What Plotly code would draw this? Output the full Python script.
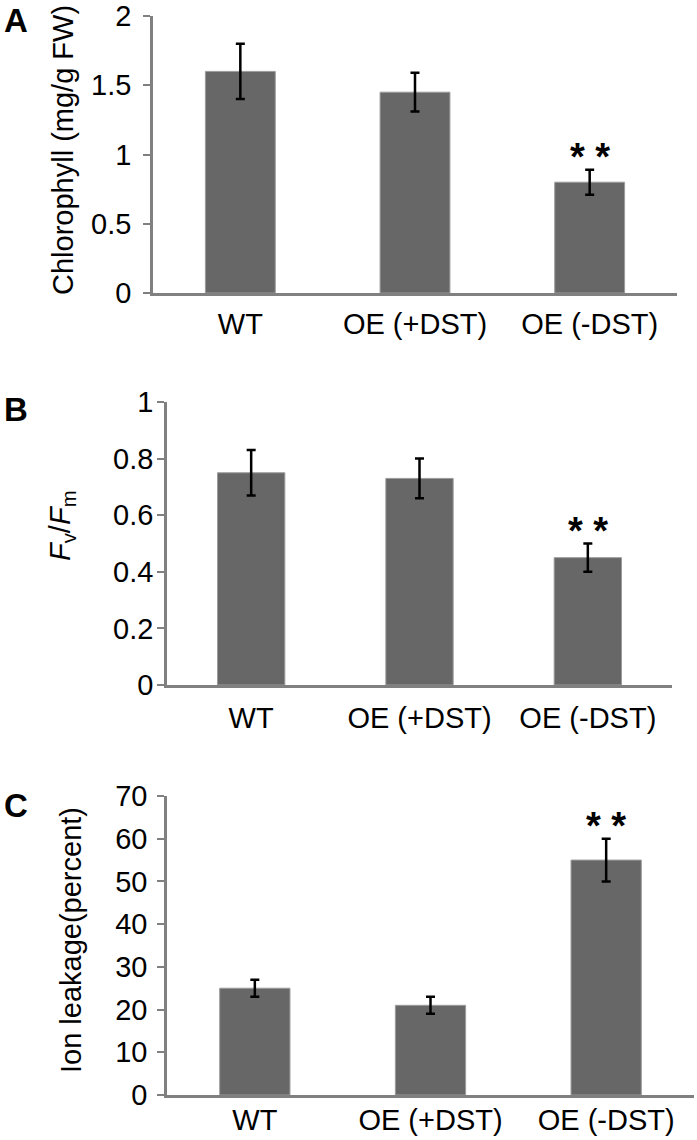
import plotly.graph_objects as go

categories = ["WT", "OE (+DST)", "OE (-DST)"]

chl_values = [1.6, 1.45, 0.8]
chl_errors = [0.2, 0.14, 0.09]

fvfm_values = [0.75, 0.73, 0.45]
fvfm_errors = [0.08, 0.07, 0.05]

ion_values = [25, 21, 55]
ion_errors = [2, 2, 5]

W, H = 697, 1140
FONT = "Liberation Sans, Arial, sans-serif"
AXC = "#808080"
BAR = "#676767"
BAR_EDGE = "#9c9c9c"


def px_x(p):
    return p / W


def px_y(p):
    return 1 - p / H


panels = [
    dict(vals=chl_values, errs=chl_errors, x=(153, 677), y=(16, 293), rng=[0, 2], dtick=0.5,
         standoff_y=6, standoff_x=3, title="Chlorophyll (mg/g FW)", tx=63, ty=150, label="A", ly=21),
    dict(vals=fvfm_values, errs=fvfm_errors, x=(167, 672), y=(402, 685), rng=[0, 1], dtick=0.2,
         standoff_y=-2, standoff_x=5, title="<i>F</i><sub>v</sub>/<i>F</i><sub>m</sub>", tx=62, ty=526,
         label="B", ly=409),
    dict(vals=ion_values, errs=ion_errors, x=(167, 694), y=(796, 1095), rng=[0, 70], dtick=10,
         standoff_y=4, standoff_x=-3, title="Ion leakage(percent)", tx=71, ty=940, label="C", ly=805),
]

fig = go.Figure()
layout = dict(width=W, height=H, margin=dict(l=0, r=0, t=0, b=0, autoexpand=False), showlegend=False,
              template="none",
              plot_bgcolor="white", paper_bgcolor="white", font=dict(family=FONT, size=29, color="black"),
              bargap=0.6)
annotations = []

for i, p in enumerate(panels, start=1):
    sfx = "" if i == 1 else str(i)
    fig.add_trace(go.Bar(
        x=categories, y=p["vals"], xaxis="x" + sfx, yaxis="y" + sfx,
        marker=dict(color=BAR, line=dict(color=BAR_EDGE, width=1)),
        error_y=dict(type="data", array=p["errs"], visible=True, color="black", thickness=2.5, width=4.5),
        width=0.4,
    ))
    layout["xaxis" + sfx] = dict(
        domain=[px_x(p["x"][0]), px_x(p["x"][1])], anchor="y" + sfx, type="category",
        range=[-0.5, 2.5], showline=True, linecolor=AXC, linewidth=2.5, ticks="",
        showgrid=False, zeroline=False, tickfont=dict(size=29, family=FONT, color="black"),
        ticklabelstandoff=p["standoff_x"], automargin=False, fixedrange=True,
    )
    layout["yaxis" + sfx] = dict(
        domain=[px_y(p["y"][1]), px_y(p["y"][0])], anchor="x" + sfx, range=p["rng"], dtick=p["dtick"],
        showline=True, linecolor=AXC, linewidth=2.5, ticks="outside", ticklen=7, tickwidth=2,
        tickcolor=AXC, showgrid=False, zeroline=False, automargin=False,
        tickfont=dict(size=29, family=FONT, color="black"), ticklabelstandoff=p["standoff_y"],
    )
    # y-axis title
    annotations.append(dict(text=p["title"], x=px_x(p["tx"]), y=px_y(p["ty"]), xref="paper", yref="paper",
                            textangle=-90, showarrow=False, xanchor="center", yanchor="middle",
                            font=dict(size=29, family=FONT, color="black")))
    # panel label
    annotations.append(dict(text="<b>%s</b>" % p["label"], x=px_x(2), y=px_y(p["ly"]), xref="paper",
                            yref="paper", showarrow=False, xanchor="left", yanchor="middle",
                            font=dict(size=33, family=FONT, color="black")))
    # significance stars on the OE (-DST) bar
    annotations.append(dict(text="<b>* *</b>", x=categories[2], y=p["vals"][2] + p["errs"][2],
                            xref="x" + sfx, yref="y" + sfx, showarrow=False, xanchor="center",
                            yanchor="middle", yshift=13,
                            font=dict(size=38, family=FONT, color="black")))

layout["annotations"] = annotations
fig.update_layout(**layout)
fig.write_html("out.html", config={"displayModeBar": False},
               post_script="document.body.style.margin='0';")
